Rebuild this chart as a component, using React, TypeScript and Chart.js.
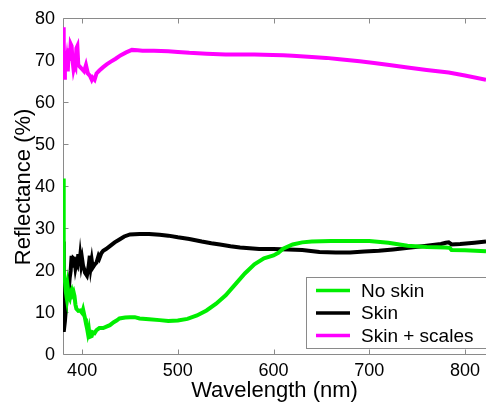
import { useEffect, useRef } from 'react';
import { Chart, registerables } from 'chart.js';

Chart.register(...registerables);

// ---- Data ----
const xTickValues = [400, 500, 600, 700, 800];
const yTickValues = [0, 10, 20, 30, 40, 50, 60, 70, 80];

const seriesLabels = ['No skin', 'Skin', 'Skin + scales'];
const seriesColors = ['#00ee00', '#000000', '#ff00ff'];

const noSkinWl = [380, 380.5, 381, 382, 383, 384, 385, 386, 387, 388, 389, 390, 391, 392, 393, 394, 396, 398, 400, 401, 403, 404, 405, 406, 407, 408, 410, 411, 413, 415, 418, 422, 426, 429, 433, 436, 439, 445, 450, 455, 460, 470, 481, 490, 500, 510, 520, 530, 540, 550, 560, 570, 580, 590, 600, 605, 610, 620, 630, 640, 660, 680, 700, 720, 740, 760, 780, 784, 786, 800, 822];
const noSkinVal = [42, 30, 20, 17.7, 15, 13.5, 16, 14, 13.5, 15, 15.5, 14.5, 15, 14, 12, 11, 10.5, 10.6, 10, 10.8, 8.7, 7.5, 6.5, 5.2, 6.2, 4.3, 4.5, 5.4, 5.2, 5.9, 6.4, 6.4, 6.8, 7.1, 7.8, 8.2, 8.7, 8.9, 9, 9, 8.7, 8.5, 8.3, 8.1, 8.2, 8.6, 9.4, 10.6, 12.2, 14.2, 16.8, 19.4, 21.6, 23, 23.7, 24.3, 25.3, 26.3, 26.8, 27, 27.1, 27.1, 27.1, 26.7, 26.0, 25.7, 25.6, 25.5, 25.0, 24.9, 24.7];

const skinWl = [380, 380.5, 381, 382, 383, 384, 385, 386, 387, 388, 389, 390, 391, 392, 393, 394, 395, 396, 397, 398, 399, 400, 401, 402, 403, 405, 406, 407, 408, 409, 410, 411, 413, 415, 417, 418, 420, 422, 425, 429, 434, 439, 444, 450, 460, 470, 481, 490, 500, 512, 525, 535, 544, 555, 565, 575, 585, 600, 615, 630, 648, 665, 680, 695, 710, 725, 741, 760, 775, 780, 783, 786, 795, 810, 822];
const skinVal = [27, 14, 5.5, 8, 11, 14.6, 16, 15.5, 18.4, 20, 23.6, 20.8, 23, 22.8, 20.8, 22, 21.5, 24, 21.2, 23.5, 21.5, 22.8, 21.2, 20.5, 19.6, 18.9, 20, 21.5, 23.6, 21, 22.5, 20.8, 21.5, 22, 23.5, 23, 24.2, 24.8, 25.2, 25.9, 26.8, 27.5, 28.2, 28.7, 28.8, 28.8, 28.6, 28.4, 28, 27.6, 27, 26.6, 26.3, 25.9, 25.6, 25.4, 25.2, 25.2, 25.1, 25, 24.5, 24.4, 24.4, 24.6, 24.8, 25.1, 25.5, 26, 26.4, 26.7, 26.8, 26.3, 26.4, 26.7, 27];

const scalesWl = [380, 380.5, 381, 381.5, 382, 383, 384, 385, 386, 387, 388, 389, 390, 391, 392, 393, 394, 395, 396, 398, 400, 402, 404, 406, 408, 410, 411, 413, 415, 418, 422, 426, 430, 435, 440, 446, 452, 458, 463, 475, 490, 500, 512, 530, 550, 565, 580, 599, 610, 620, 640, 655, 669, 690, 705, 721, 740, 760, 783, 800, 822];
const scalesVal = [78, 67, 74, 66, 72, 68, 70, 67.5, 73, 70, 74, 73.5, 70, 68, 69, 68.5, 73, 73.5, 69, 68.5, 68, 67.5, 69, 67, 66.5, 65.5, 66, 65.5, 67, 67.7, 68.5, 69.2, 69.8, 70.5, 71.3, 72, 72.6, 72.5, 72.4, 72.4, 72.3, 72.1, 71.9, 71.7, 71.5, 71.5, 71.5, 71.4, 71.3, 71.2, 70.9, 70.7, 70.4, 69.9, 69.5, 69, 68.4, 67.8, 67.2, 66.5, 65.5];

const seriesWl = [noSkinWl, skinWl, scalesWl];
const seriesVal = [noSkinVal, skinVal, scalesVal];

const FONT = '"Liberation Sans", Arial, Helvetica, sans-serif';
const AXIS_COLOR = '#8a8a8a';

export default function App() {
  const ref = useRef<HTMLCanvasElement>(null);

  useEffect(() => {
    const canvas = ref.current;
    if (!canvas) return;

    const framePlugin = {
      id: 'frame',
      beforeDatasetsDraw(chart: any) {
        const { ctx, chartArea: a, scales } = chart;
        const x = scales.x;
        const y = scales.y;
        ctx.save();
        ctx.strokeStyle = AXIS_COLOR;
        ctx.lineWidth = 1;
        ctx.beginPath();
        const L = Math.round(a.left) + 0.5;
        const T = Math.round(a.top) - 0.5;
        const B = Math.round(a.bottom) - 0.5;
        const R = a.right + 5;
        ctx.moveTo(L, T);
        ctx.lineTo(L, B);
        ctx.lineTo(R, B);
        ctx.moveTo(L, T);
        ctx.lineTo(R, T);
        xTickValues.forEach((v) => {
          const px = Math.round(x.getPixelForValue(v)) + 0.5;
          ctx.moveTo(px, B);
          ctx.lineTo(px, B - 5);
          ctx.moveTo(px, T);
          ctx.lineTo(px, T + 5);
        });
        yTickValues.forEach((v) => {
          const py = Math.round(y.getPixelForValue(v)) - 0.5;
          ctx.moveTo(L, py);
          ctx.lineTo(L + 5, py);
        });
        ctx.stroke();
        ctx.restore();
      },
      afterDraw(chart: any) {
        const { ctx } = chart;
        ctx.save();
        const bx = 306.5, by = 277.5, bw = 190, bh = 71;
        ctx.fillStyle = '#ffffff';
        ctx.fillRect(bx, by, bw, bh);
        ctx.strokeStyle = AXIS_COLOR;
        ctx.lineWidth = 1;
        ctx.strokeRect(bx, by, bw, bh);
        const rows = [290.5, 313, 335.5];
        ctx.font = `19px ${FONT}`;
        ctx.textBaseline = 'middle';
        ctx.textAlign = 'left';
        seriesLabels.forEach((lab, i) => {
          ctx.strokeStyle = seriesColors[i];
          ctx.lineWidth = 3.5;
          ctx.beginPath();
          ctx.moveTo(316, rows[i]);
          ctx.lineTo(350, rows[i]);
          ctx.stroke();
          ctx.fillStyle = '#000000';
          ctx.fillText(lab, 361, rows[i] + 1);
        });
        ctx.restore();
      },
    };

    const chart = new Chart(canvas, {
      type: 'line',
      data: {
        datasets: seriesLabels.map((lab, i) => ({
          label: lab,
          data: seriesWl[i].map((w, j) => ({ x: w, y: seriesVal[i][j] })),
          borderColor: seriesColors[i],
          backgroundColor: seriesColors[i],
          borderWidth: 4,
          pointRadius: 0,
          tension: 0,
          fill: false,
        })),
      },
      options: {
        animation: false,
        responsive: false,
        devicePixelRatio: 1,
        layout: { padding: { top: 16, right: 0, left: 0, bottom: 0 } },
        plugins: {
          legend: { display: false },
          tooltip: { enabled: false },
        },
        scales: {
          x: {
            type: 'linear',
            min: 380,
            max: 822,
            afterBuildTicks: (s: any) => {
              s.ticks = xTickValues.map((v) => ({ value: v }));
            },
            afterFit: (s: any) => {
              s.height = 50;
            },
            grid: { display: false, drawTicks: false },
            border: { display: false },
            ticks: {
              color: '#000000',
              padding: 5,
              maxRotation: 0,
              font: { family: FONT, size: 18 },
            },
            title: {
              display: true,
              text: 'Wavelength (nm)',
              color: '#000000',
              font: { family: FONT, size: 22 },
              padding: { top: 0, bottom: 1 },
            },
          },
          y: {
            type: 'linear',
            min: 0,
            max: 80,
            afterBuildTicks: (s: any) => {
              s.ticks = yTickValues.map((v) => ({ value: v }));
            },
            afterFit: (s: any) => {
              s.width = 63;
            },
            grid: { display: false, drawTicks: false },
            border: { display: false },
            ticks: {
              color: '#000000',
              padding: 8,
              font: { family: FONT, size: 18 },
            },
            title: {
              display: true,
              text: 'Reflectance (%)',
              color: '#000000',
              font: { family: FONT, size: 22 },
              padding: { top: 11, bottom: 0 },
            },
          },
        },
      },
      plugins: [framePlugin],
    });

    return () => chart.destroy();
  }, []);

  return (
    <div style={{ position: 'fixed', left: 0, top: 0, width: 486, height: 405, background: '#ffffff' }}>
      <canvas ref={ref} width={486} height={405} style={{ width: 486, height: 405, display: 'block' }} />
    </div>
  );
}
